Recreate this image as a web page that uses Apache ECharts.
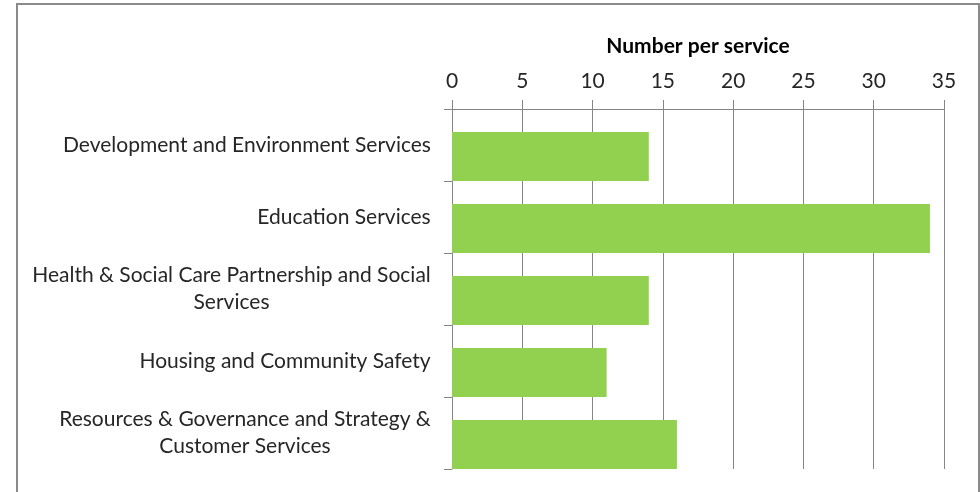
<!DOCTYPE html>
<html>
<head>
<meta charset="utf-8">
<script src="https://cdn.jsdelivr.net/npm/echarts@6/dist/echarts.min.js"></script>
<style>
  html, body { margin: 0; padding: 0; background: #fff; }
  #chart { width: 980px; height: 492px; }
</style>
</head>
<body>
<div id="chart"></div>
<script>
// Services, listed top to bottom
const services = [
  'Development and Environment Services',
  'Education Services',
  'Health & Social Care Partnership and Social\nServices',
  'Housing and Community Safety',
  'Resources & Governance and Strategy &\nCustomer Services'
];
// Number per service
const counts = [14, 34, 14, 11, 16];
// Value axis ticks
const axisMin = 0;
const axisMax = 35;
const axisStep = 5;

const FONT = 'Lato';
const FONT_SIZE = 21;

// Width of the longest line of each label, so wrapped lines centre under each other
const ctx = document.createElement('canvas').getContext('2d');
ctx.font = FONT_SIZE + 'px ' + FONT;
const rich = {};
services.forEach((s, i) => {
  const w = Math.max(...s.split('\n').map(l => ctx.measureText(l).width));
  rich['c' + i] = { width: Math.ceil(w), align: 'center', fontFamily: FONT, fontSize: FONT_SIZE, color: '#262626', lineHeight: 27 };
});

const chart = echarts.init(document.getElementById('chart'), null, { renderer: 'canvas' });
chart.setOption({
  animation: false,
  backgroundColor: '#fff',
  textStyle: { fontFamily: FONT },
  grid: { left: 452, right: 36, top: 109, bottom: 23, containLabel: false },
  graphic: [{
    type: 'rect',
    shape: { x: 17, y: 4, width: 962, height: 500 },
    style: { fill: 'none', stroke: '#8a8a8a', lineWidth: 2 },
    silent: true
  }],
  xAxis: {
    type: 'value',
    position: 'top',
    min: axisMin,
    max: axisMax,
    interval: axisStep,
    name: 'Number per service',
    nameLocation: 'middle',
    nameGap: 52,
    nameTextStyle: { fontFamily: FONT, fontSize: 21, fontWeight: 'bold', color: '#000' },
    axisLine: { show: true, lineStyle: { color: '#868686', width: 1 } },
    axisTick: { show: true, length: 9, lineStyle: { color: '#868686' } },
    axisLabel: { margin: 17, fontFamily: FONT, fontSize: FONT_SIZE, color: '#262626' },
    splitLine: { show: true, lineStyle: { color: '#868686', width: 1 } }
  },
  yAxis: {
    type: 'category',
    inverse: true,
    data: services,
    axisLine: { show: true, lineStyle: { color: '#868686', width: 1 } },
    axisTick: { show: true, length: 8, alignWithLabel: false, lineStyle: { color: '#868686' } },
    axisLabel: {
      margin: 21,
      interval: 0,
      formatter: (value, index) => value.split('\n').map(l => '{c' + index + '|' + l + '}').join('\n'),
      rich: rich
    },
    splitLine: { show: false }
  },
  series: [
    {
      // empty slot that pushes each bar to the lower part of its band
      name: 'spacer',
      type: 'bar',
      data: [],
      barWidth: 23,
      barGap: '0%',
      barCategoryGap: '0%',
      silent: true,
      itemStyle: { color: 'rgba(0,0,0,0)' }
    },
    {
      name: 'Number per service',
      type: 'bar',
      data: counts,
      barWidth: 49,
      barGap: '0%',
      barCategoryGap: '0%',
      itemStyle: { color: '#92D050' }
    }
  ]
});
</script>
</body>
</html>
